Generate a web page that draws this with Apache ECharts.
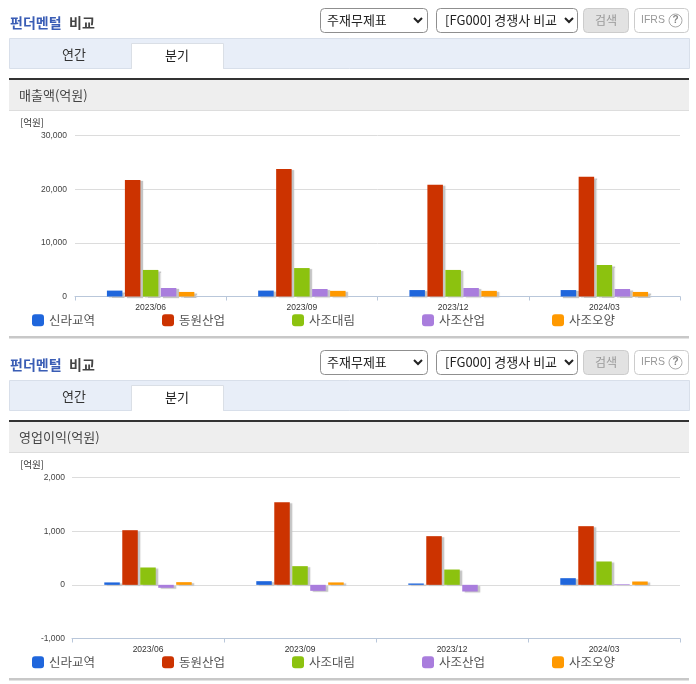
<!DOCTYPE html>
<html><head><meta charset="utf-8">
<style>html,body{margin:0;padding:0;background:#fff;overflow:hidden}#c{width:696px;height:684px}</style>
<script src="https://cdn.jsdelivr.net/npm/echarts@6/dist/echarts.min.js"></script>
</head><body><div id="c"></div>
<script>
const categories = ['2023/06','2023/09','2023/12','2024/03'];
const companies = ['신라교역','동원산업','사조대림','사조산업','사조오양'];
const colors = ['#1f66dc','#cc3300','#8cc20f','#a97ddd','#ff9900'];
// 매출액(억원)
const salesShilla = [1100,1100,1200,1200];
const salesDongwon = [21700,23750,20800,22300];
const salesDaerim = [4950,5300,4950,5870];
const salesSajo = [1580,1400,1580,1400];
const salesOyang = [850,1050,1050,850];
// 영업이익(억원)
const opShilla = [45,68,25,124];
const opDongwon = [1018,1540,907,1093];
const opDaerim = [323,348,285,435];
const opSajo = [-55,-112,-124,12];
const opOyang = [50,45,0,62];
const salesSeries = [salesShilla,salesDongwon,salesDaerim,salesSajo,salesOyang];
const opSeries = [opShilla,opDongwon,opDaerim,opSajo,opOyang];
const titles = ['매출액(억원)','영업이익(억원)'];

const KR = '"Noto Sans CJK KR","Noto Sans",sans-serif';
const LAT = '"Liberation Sans",Arial,sans-serif';
const rect = (x,y,w,h,fill,stroke,r) => ({type:'rect',silent:true,shape:{x:x+(stroke?.5:0),y:y+(stroke?.5:0),width:w,height:h,r:r||0},style:{fill:fill,stroke:stroke||null,lineWidth:stroke?1:0}});
const text = (x,y,t,size,fill,align,font,weight) => ({type:'text',silent:true,x:x,y:y,style:{text:t,fontSize:size,fontFamily:font||KR,fontWeight:weight||'normal',fill:fill,align:align||'left',verticalAlign:'middle'}});
const chevron = (cx,cy) => ({type:'polyline',silent:true,shape:{points:[[cx-4,cy-2],[cx,cy+2],[cx+4,cy-2]]},style:{stroke:'#222',lineWidth:2,fill:null}});

function chrome(dy, title){
  return [
    text(10,23+dy,'펀더멘털',14,'#3a5db5','left',KR,'bold'),
    text(69,23+dy,'비교',14,'#444','left',KR,'bold'),
    rect(320,8+dy,107,24,'#fff','#8f8f8f',4),
    text(327,20+dy,'주재무제표',13,'#222'),
    chevron(418,20+dy),
    rect(436,8+dy,141,24,'#fff','#8f8f8f',4),
    text(445,20+dy,'[FG000] 경쟁사 비교',13,'#222'),
    chevron(569,20+dy),
    rect(583,8+dy,45,24,'#e2e2e2','#cccccc',4),
    text(606,20+dy,'검색',12,'#999','center'),
    rect(634,8+dy,54,24,'#fff','#cccccc',4),
    text(641,20.5+dy,'IFRS',10.5,'#999','left',LAT),
    {type:'circle',silent:true,shape:{cx:675.5,cy:20.5+dy,r:6.5},style:{fill:'#fff',stroke:'#aaa',lineWidth:1}},
    text(675.5,20.5+dy,'?',10,'#888','center',LAT,'bold'),
    rect(9,38+dy,680,30,'#e8eef8','#d8dfea'),
    rect(131,43+dy,92,25,'#fff','#dadfe6'),
    rect(132,66+dy,91,3,'#fff'),
    text(74,54+dy,'연간',13,'#333','center'),
    text(177,55+dy,'분기',13,'#222','center'),
    rect(9,78+dy,680,2,'#333'),
    rect(9,80+dy,680,30,'#eeeeee'),
    rect(9,110+dy,680,1,'#dddddd'),
    text(19,95+dy,title,13,'#444'),
    text(20,122+dy,'[억원]',9.5,'#333'),
    rect(9,336+dy,680,2.5,'#c8c8c8')
  ];
}

const grids = [
  {left:75,right:16,top:135.5,height:161},
  {left:72,right:16,top:477.5,height:161}
];
const xAxes = [0,1].map(i=>({
  type:'category',gridIndex:i,data:categories,
  position:'bottom',
  axisLine:{onZero:false,lineStyle:{color:'#b9c7da',width:1}},
  axisTick:{show:true,length:4,alignWithLabel:false,lineStyle:{color:'#b9c7da'}},
  axisLabel:{fontSize:8.5,color:'#333',fontFamily:LAT,margin:7}
}));
const fmt = v => v.toLocaleString('en-US');
const yAxes = [
  {min:0,max:30000,interval:10000},
  {min:-1000,max:2000,interval:1000}
].map((a,i)=>Object.assign(a,{
  type:'value',gridIndex:i,
  axisLine:{show:false},axisTick:{show:false},
  axisLabel:{fontSize:8.5,color:'#444',fontFamily:LAT,margin:i===0?8:7,padding:[2,0,0,0],formatter:fmt},
  splitLine:{lineStyle:{color:'#dcdcdc',width:1}}
}));

const series = [];
[salesSeries,opSeries].forEach((group,g)=>{
  group.forEach((vals,i)=>series.push({
    type:'bar',name:companies[i],xAxisIndex:g,yAxisIndex:g,data:vals,
    barWidth:15.5,barGap:'16%',
    itemStyle:{color:colors[i],shadowColor:'#c4c4c4',shadowBlur:1,shadowOffsetX:2.5,shadowOffsetY:1},
    emphasis:{disabled:true},animation:false
  }));
});

const legends = [320,662].map(y=>({
  left:32,top:y-6,padding:0,itemWidth:12,itemHeight:12,itemGap:67,
  icon:'roundRect',selectedMode:false,data:companies,
  textStyle:{fontSize:12.5,color:'#555',fontFamily:KR}
}));

const chart = echarts.init(document.getElementById('c'));
chart.setOption({
  animation:false,backgroundColor:'#fff',color:colors,
  grid:grids,xAxis:xAxes,yAxis:yAxes,series:series,legend:legends,
  graphic:{elements:[...chrome(0,titles[0]),...chrome(342,titles[1])]}
});
</script></body></html>
